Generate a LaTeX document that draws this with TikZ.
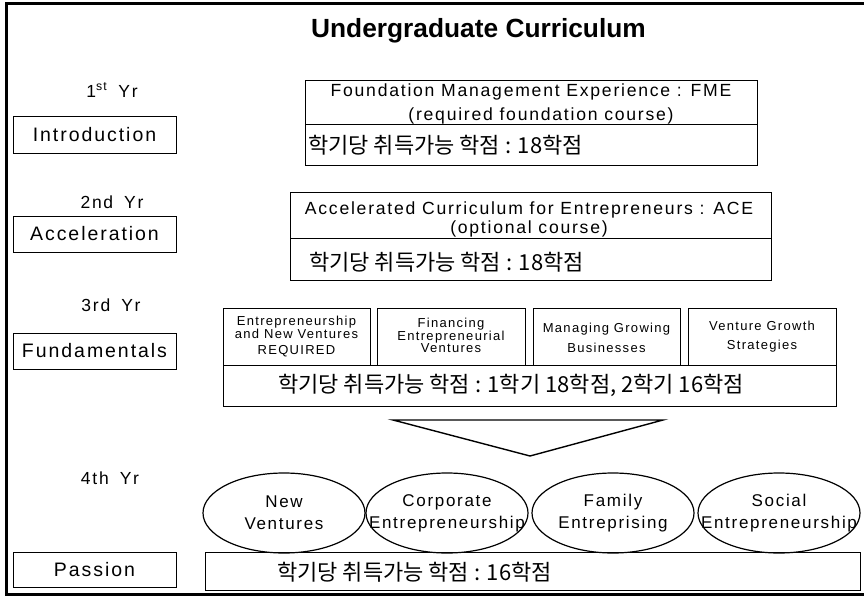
\documentclass[tikz,border=0pt]{standalone}
\usepackage{fontspec}
\setmainfont{Liberation Sans}[LetterSpace=10]
\newfontfamily\ttlfont{Liberation Sans}
\newfontfamily\kr{Noto Sans CJK KR}
\usetikzlibrary{shapes.geometric}
\tikzset{
  box/.style={draw, line width=0.9pt, inner sep=0pt},
  lbox/.style={box, minimum width=163pt, minimum height=36pt, font=\fontsize{19.5}{21}\selectfont},
  yrtxt/.style={font=\fontsize{17.5}{19}\selectfont, inner sep=0pt},
  crstxt/.style={font=\fontsize{17.6}{19}\selectfont, inner sep=0pt},
  krtxt/.style={font=\kr\fontsize{22}{24}\selectfont, inner sep=0pt, anchor=west},
  course/.style={box, minimum width=147pt, minimum height=57pt},
  ctxt/.style={inner sep=0pt, align=center, font=\fontsize{13}{12}\selectfont},
  ell/.style={draw, ellipse, line width=1.2pt, inner sep=0pt, minimum width=162pt, minimum height=80pt},
  etxt/.style={inner sep=0pt, align=center, font=\fontsize{17}{22}\selectfont}
}
\begin{document}
\begin{tikzpicture}[x=1pt,y=-1pt]
\useasboundingbox (0,0) rectangle (864,596);
% frame
\draw[line width=3pt] (864,4) -- (6,4) -- (6,594) -- (864,594);
% title
\node[inner sep=0pt, font=\ttlfont\bfseries\fontsize{26.3}{28}\selectfont] (title) at (478.5,31) {Undergraduate Curriculum};
% year labels
\node[yrtxt] (y1) at (112,90) {1\textsuperscript{st}\hspace{11pt}Yr};
\node[yrtxt] (y2) at (112,202) {2nd\hspace{11pt}Yr};
\node[yrtxt] (y3) at (111,305) {3rd\hspace{11pt}Yr};
\node[yrtxt] (y4) at (110,478) {4th\hspace{11pt}Yr};
% left boxes
\node[lbox, minimum height=37pt] (intro) at (94.5,134.5) {Introduction};
\node[lbox] (acc) at (94.5,234) {Acceleration};
\node[lbox] (fund) at (94.5,351) {Fundamentals};
\node[lbox, minimum height=35pt] (pass) at (94.5,570) {Passion};
% FME
\node[box, minimum width=452pt, minimum height=44pt] (fmetop) at (531,102) {};
\node[box, minimum width=452pt, minimum height=41pt] (fmebot) at (531,144.5) {};
\node[crstxt] (fme1) at (531,92) {Foundation Management Experience : FME};
\node[crstxt] (fme2) at (541,116) {(required foundation course)};
\node[krtxt] (fmekr) at (308,145) {학기당 취득가능 학점 : 18학점};
% ACE
\node[box, minimum width=481pt, minimum height=46pt] (acetop) at (530.5,215) {};
\node[box, minimum width=481pt, minimum height=42pt] (acebot) at (530.5,259) {};
\node[crstxt] (ace1) at (529,210) {Accelerated Curriculum for Entrepreneurs : ACE};
\node[crstxt] (ace2) at (529,229) {(optional course)};
\node[krtxt] (acekr) at (309,262) {학기당 취득가능 학점 : 18학점};
% 3rd year courses
\node[course] (c1) at (296.5,336.5) {};
\node[ctxt] (c1t) at (296.5,327) {Entrepreneurship\\and New Ventures};
\node[ctxt] (c1r) at (296.5,351) {REQUIRED};
\node[course, minimum width=148pt] (c2) at (451,336.5) {};
\node[ctxt] (c2t) at (451,335) {Financing\\Entrepreneurial\\Ventures};
\node[course] (c3) at (606.5,336.5) {};
\node[ctxt] (c3t) at (606.5,337.5) {Managing Growing\\[7pt]Businesses};
\node[course, minimum width=148pt] (c4) at (762,336.5) {};
\node[ctxt] (c4t) at (762,337) {Venture Growth\\[7pt]Strategies};
\node[box, minimum width=613pt, minimum height=41pt] (fundbot) at (529.5,385.5) {};
\node[krtxt, anchor=center] (fundkr) at (511,385) {학기당 취득가능 학점 : 1학기 18학점, 2학기 16학점};
% triangle
\coordinate (tl) at (393,420);
\coordinate (tr) at (663,420);
\coordinate (tb) at (530,456);
\draw[line width=1.4pt, line join=miter] (tl) -- (tr) -- (tb) -- cycle;
% ellipses
\node[ell] (e1) at (284,513) {};
\node[ell] (e2) at (447,513) {};
\node[ell] (e3) at (613,513) {};
\node[ell] (e4) at (779,513) {};
\node[etxt] (e1t) at (e1) {New\\Ventures};
\node[etxt] (e2t) at (e2) {Corporate\\Entrepreneurship};
\node[etxt] (e3t) at (e3) {Family\\Entreprising};
\node[etxt] (e4t) at (e4) {Social\\Entrepreneurship};
% passion bottom box
\node[box, minimum width=655pt, minimum height=38pt] (pbot) at (532.5,571) {};
\node[krtxt] (pkr) at (277,572) {학기당 취득가능 학점 : 16학점};
\end{tikzpicture}
\end{document}
